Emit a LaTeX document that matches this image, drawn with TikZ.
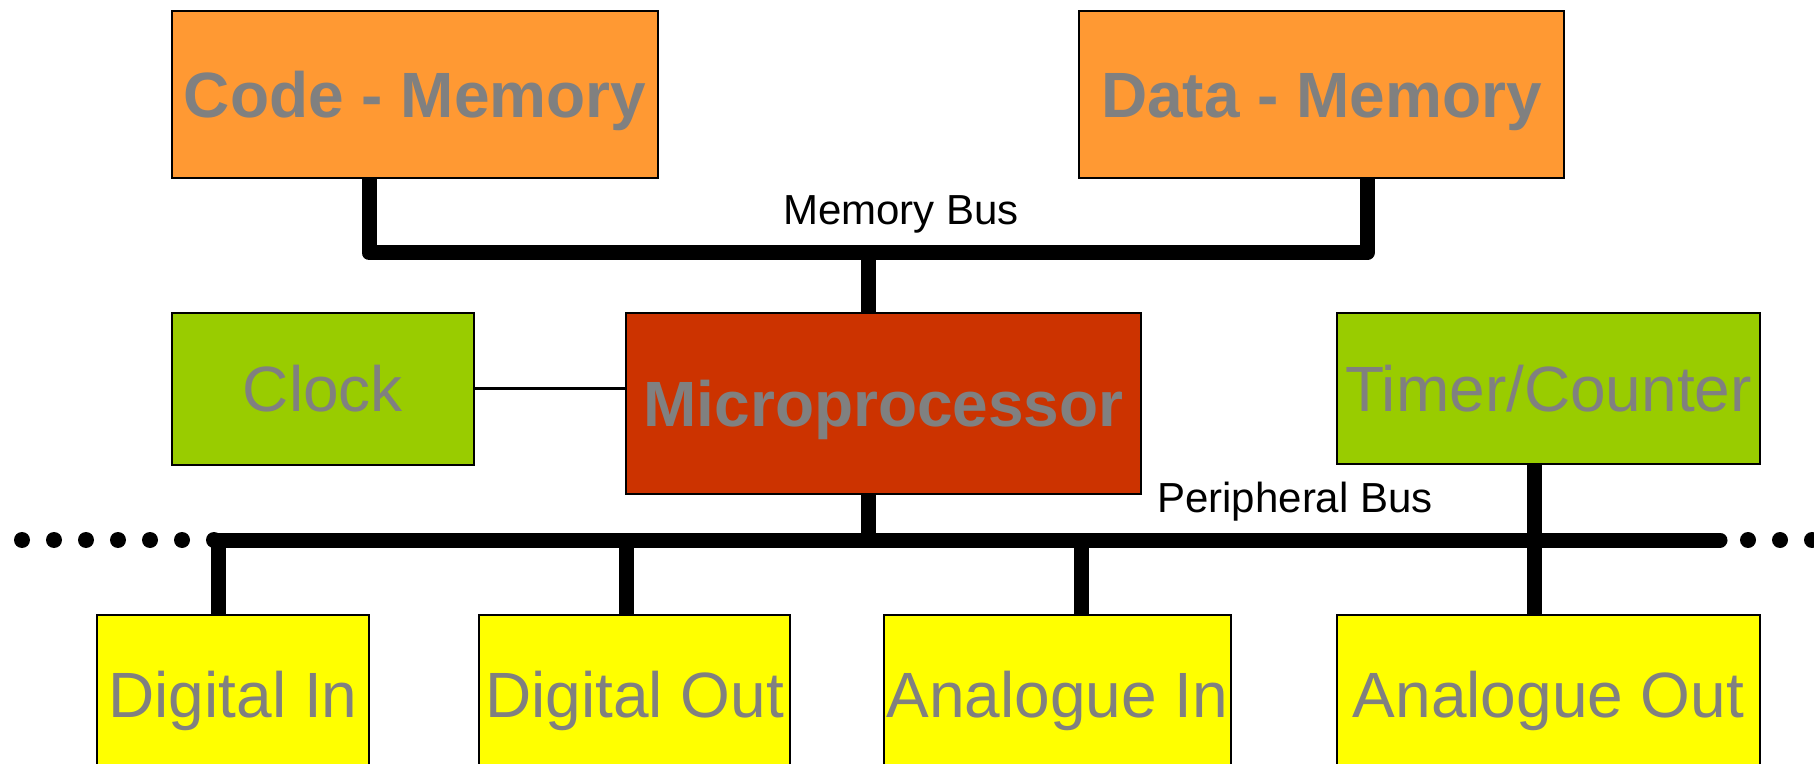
\documentclass[tikz,border=0pt]{standalone}
\usepackage{fontspec}
\setmainfont{Liberation Sans}
\usepackage{tikz}
\usetikzlibrary{
  calc,
  positioning
}
\definecolor{memorange}{RGB}{255,153,51}
\definecolor{cpured}{RGB}{204,51,0}
\definecolor{auxgreen}{RGB}{153,204,0}
\definecolor{ioyellow}{RGB}{255,255,0}
\definecolor{labgray}{RGB}{128,128,128}
\tikzset{
  block/.style={draw=black,line width=1pt,inner sep=0pt,text=labgray,
    text height=23pt,text depth=0pt},
  memblock/.style={block,fill=memorange,
    font=\fontsize{32}{38}\selectfont\bfseries},
  cpublock/.style={block,fill=cpured,
    font=\fontsize{32}{38}\selectfont\bfseries},
  auxblock/.style={block,fill=auxgreen,font=\fontsize{32}{38}\selectfont},
  ioblock/.style={block,fill=ioyellow,font=\fontsize{32}{38}\selectfont},
  bus/.style={line width=7.5pt,draw=black,line join=round},
  busend/.style={line width=7.5pt,draw=black,line cap=round},
  tap/.style={line width=7.5pt,draw=black},
  wire/.style={line width=1.5pt,draw=black},
  buslab/.style={font=\fontsize{21}{25}\selectfont,text=black,inner sep=0pt},
  busdot/.style={circle,fill=black,inner sep=0pt,minimum size=8pt}
}

\begin{document}
\begin{tikzpicture}[x=0.5pt,y=-0.5pt]
  \clip (0,0) rectangle (1814,764);
  % blocks
  \node[memblock,minimum width=243pt,minimum height=83.5pt] (code) at (415,94.5) {Code - Memory};
  \node[memblock,minimum width=242.5pt,minimum height=83.5pt] (data) at (1321.5,94.5) {Data - Memory};
  \node[cpublock,minimum width=257.5pt,minimum height=90.5pt] (cpu) at (883.5,403.5) {Microprocessor};
  \node[auxblock,minimum width=151pt,minimum height=76pt] (clock) at (323,389) {Clock};
  \node[auxblock,minimum width=211.5pt,minimum height=75.5pt] (timer) at (1548.5,388.5) {Timer/Counter};
  \node[ioblock,minimum width=136pt,minimum height=79pt] (din) at (233,694) {Digital In};
  \node[ioblock,minimum width=155.5pt,minimum height=79pt] (dout) at (634.5,694) {Digital Out};
  \node[ioblock,minimum width=173.5pt,minimum height=79pt] (ain) at (1057.5,694) {Analogue In};
  \node[ioblock,minimum width=211.5pt,minimum height=79pt] (aout) at (1548.5,694) {Analogue Out};
  % bus points
  \coordinate (mbL) at (369,253);
  \coordinate (mbR) at (1367,253);
  \coordinate (mbT) at (868,253);
  \coordinate (pbL) at (218,540);
  \coordinate (pbR) at (1720,540);
  % memory bus
  \draw[bus] (code.south -| mbL) -- (mbL) -- (mbR) -- (data.south -| mbR);
  \draw[tap] (mbT) -- (cpu.north -| mbT);
  \node[buslab] (memlab) at (901,214) {Memory Bus};
  % clock
  \draw[wire] (clock.east) -- (cpu.west |- clock.east);
  % peripheral bus
  \draw[bus] (din.north -| pbL) -- (pbL) -- (pbL -| 1500,0);
  \draw[busend] (pbL -| 1500,0) -- (pbR);
  \draw[tap] (cpu.south -| mbT) -- (pbL -| mbT);
  \draw[tap] (pbL -| 626,0) -- (dout.north -| 626,0);
  \draw[tap] (pbL -| 1081,0) -- (ain.north -| 1081,0);
  \draw[tap] (timer.south -| 1534,0) -- (aout.north -| 1534,0);
  \node[buslab] (perlab) at (1295,502) {Peripheral Bus};
  \foreach \i in {0,...,6}
    \node[busdot] (ldot\i) at (22+\i*32,540) {};
  \foreach \i in {0,1,2}
    \node[busdot] (rdot\i) at (1748+\i*32,540) {};
\end{tikzpicture}
\end{document}
